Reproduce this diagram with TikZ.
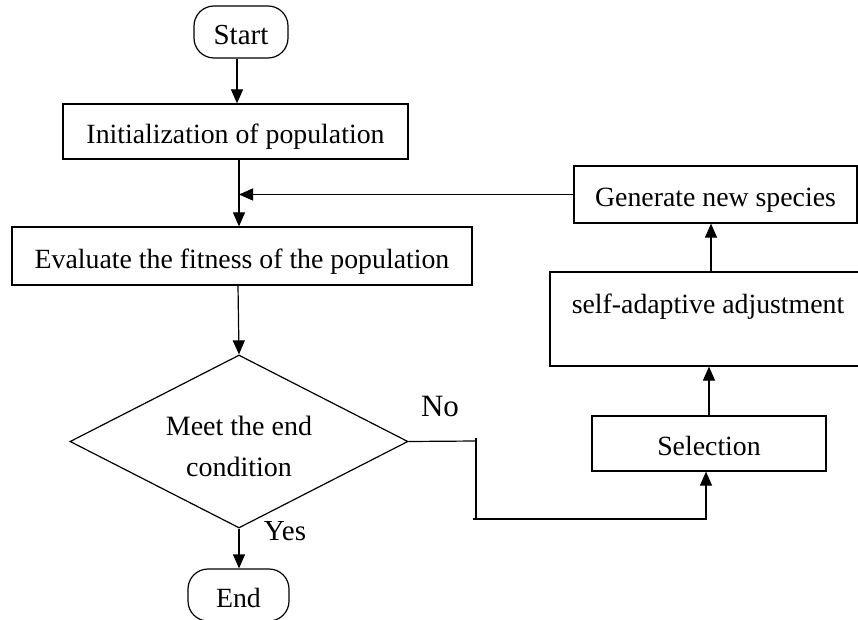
\documentclass[tikz,border=0pt]{standalone}
\usepackage{fontspec}
\setmainfont{Liberation Serif}
\usetikzlibrary{arrows.meta,shapes.geometric}
\begin{document}
\begin{tikzpicture}[x=1pt,y=-1pt,
  box/.style={draw, line width=1.2pt, inner sep=0pt, text height=24pt, text depth=0pt, font=\fontsize{27.8}{33}\selectfont},
  term/.style={box, rounded corners=20pt},
  dia/.style={draw, diamond, line width=1.2pt, inner sep=0pt},
  txt/.style={inner sep=0pt, align=center, font=\fontsize{28}{41}\selectfont},
  lbl/.style={inner sep=0pt, font=\fontsize{30}{36}\selectfont},
  arr/.style={line width=1.2pt, -{Triangle[length=14pt,width=12pt]}},
  ln/.style={line width=1.2pt}]
\clip (0,0) rectangle (858,620);
\fill[white] (0,0) rectangle (858,620);
% nodes
\node[term, minimum width=94pt, minimum height=52pt, font=\fontsize{29}{34}\selectfont, text height=26pt] (start) at (241,32) {Start};
\node[box, minimum width=345pt, minimum height=55pt] (init) at (235.5,131.5) {Initialization of population};
\node[box, minimum width=460pt, minimum height=58pt] (eval) at (242,256) {Evaluate the fitness of the population};
\node[dia, minimum width=338pt, minimum height=173pt] (dec) at (239,441.5) {};
\node[txt] (dectxt) at (239,446) {Meet the end\\condition};
\node[term, minimum width=101pt, minimum height=52pt] (endn) at (238.5,595) {End};
\node[box, minimum width=283pt, minimum height=57pt] (gen) at (715.5,194.5) {Generate new species};
\node[box, minimum width=316pt, minimum height=94pt] (adj) at (708,319) {};
\node[inner sep=0pt, font=\fontsize{27.8}{33}\selectfont, anchor=base] (adjtxt) at (708,313) {self-adaptive adjustment};
\node[box, minimum width=234pt, minimum height=55pt] (sel) at (709,443.5) {Selection};
\node[lbl, font=\fontsize{31}{36}\selectfont] (no) at (440,406) {No};
\node[lbl, font=\fontsize{29}{34}\selectfont] (yes) at (285,531) {Yes};
% coordinates
\coordinate (vline) at ([xshift=3.5pt]init.south);
\coordinate (c1) at (476,441);
\coordinate (c1top) at (476,438);
\coordinate (c2) at (476,519);
\coordinate (c2l) at (473,519);
\coordinate (c3) at (707,519);
\coordinate (c3a) at (706,519);
% connectors
\draw[arr] ([xshift=-4pt]start.south) -- ([xshift=1.5pt]init.north);
\draw[arr] (vline) -- ([xshift=-3pt]eval.north);
\draw[arr] (gen.west) -- (gen.west -| vline);
\draw[arr] ([xshift=-4pt]eval.south) -- (dec.north);
\draw[arr] (dec.south) -- (dec.south |- endn.north);
\draw[ln] (dec.east) -- (c1);
\draw[ln] (c1top) -- (c2);
\draw[ln] (c2l) -- (c3);
\draw[arr] (c3a) -- (c3a |- sel.south);
\draw[arr] (sel.north) -- (sel.north |- adj.south);
\draw[arr] ([xshift=3pt]adj.north) -- ([xshift=3pt]adj.north |- gen.south);
\end{tikzpicture}
\end{document}
